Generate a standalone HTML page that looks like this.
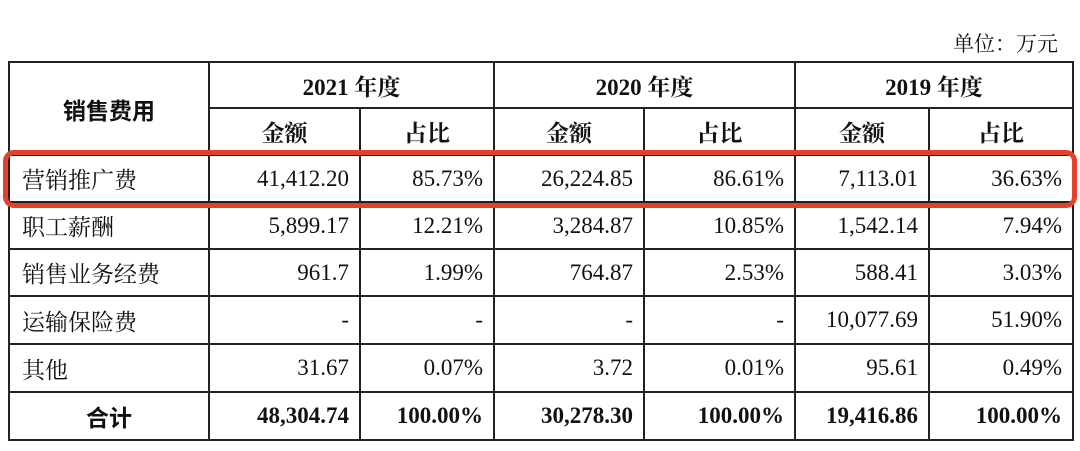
<!DOCTYPE html>
<html><head><meta charset="utf-8"><style>
body{margin:0;width:1080px;height:451px;background:#fff;position:relative;overflow:hidden;font-family:"Liberation Serif","Noto Serif CJK SC",serif;color:#111}
.unit{position:absolute;right:22px;top:28px;font-size:21px;font-family:"Liberation Serif","Noto Serif CJK SC",serif}
table{position:absolute;left:8px;top:61px;border-collapse:collapse}
td{border:2px solid #222;padding:0 10px;font-size:23px;height:44px;text-align:right;box-sizing:border-box}
.h{text-align:center;font-weight:bold}
.l{text-align:left;font-family:"Liberation Serif","Noto Serif CJK SC",serif;padding-left:12px}
.b{font-weight:bold}
.box{position:absolute;left:3px;top:150px;width:1064px;height:48px;border:5px solid #e5402c;border-radius:11px}
</style></head><body>
<div class="unit">单位：万元</div>
<table>
<colgroup><col style="width:200px"><col style="width:151px"><col style="width:134px"><col style="width:150px"><col style="width:151px"><col style="width:134px"><col style="width:144px"></colgroup>
<tr style="height:46px"><td class="h" rowspan="2" style="font-family:'Noto Sans CJK SC',sans-serif">销售费用</td><td class="h" colspan="2">2021 年度</td><td class="h" colspan="2">2020 年度</td><td class="h" colspan="2">2019 年度</td></tr>
<tr style="height:47px"><td class="h">金额</td><td class="h">占比</td><td class="h">金额</td><td class="h">占比</td><td class="h">金额</td><td class="h">占比</td></tr>
<tr style="height:47px"><td class="l">营销推广费</td><td>41,412.20</td><td>85.73%</td><td>26,224.85</td><td>86.61%</td><td>7,113.01</td><td>36.63%</td></tr>
<tr style="height:47px"><td class="l">职工薪酬</td><td>5,899.17</td><td>12.21%</td><td>3,284.87</td><td>10.85%</td><td>1,542.14</td><td>7.94%</td></tr>
<tr style="height:47px"><td class="l">销售业务经费</td><td>961.7</td><td>1.99%</td><td>764.87</td><td>2.53%</td><td>588.41</td><td>3.03%</td></tr>
<tr style="height:48px"><td class="l">运输保险费</td><td>-</td><td>-</td><td>-</td><td>-</td><td>10,077.69</td><td>51.90%</td></tr>
<tr style="height:48px"><td class="l">其他</td><td>31.67</td><td>0.07%</td><td>3.72</td><td>0.01%</td><td>95.61</td><td>0.49%</td></tr>
<tr style="height:48px"><td class="h" style="font-family:'Noto Sans CJK SC',sans-serif">合计</td><td class="b">48,304.74</td><td class="b">100.00%</td><td class="b">30,278.30</td><td class="b">100.00%</td><td class="b">19,416.86</td><td class="b">100.00%</td></tr>
</table>
<div class="box"></div>
</body></html>
